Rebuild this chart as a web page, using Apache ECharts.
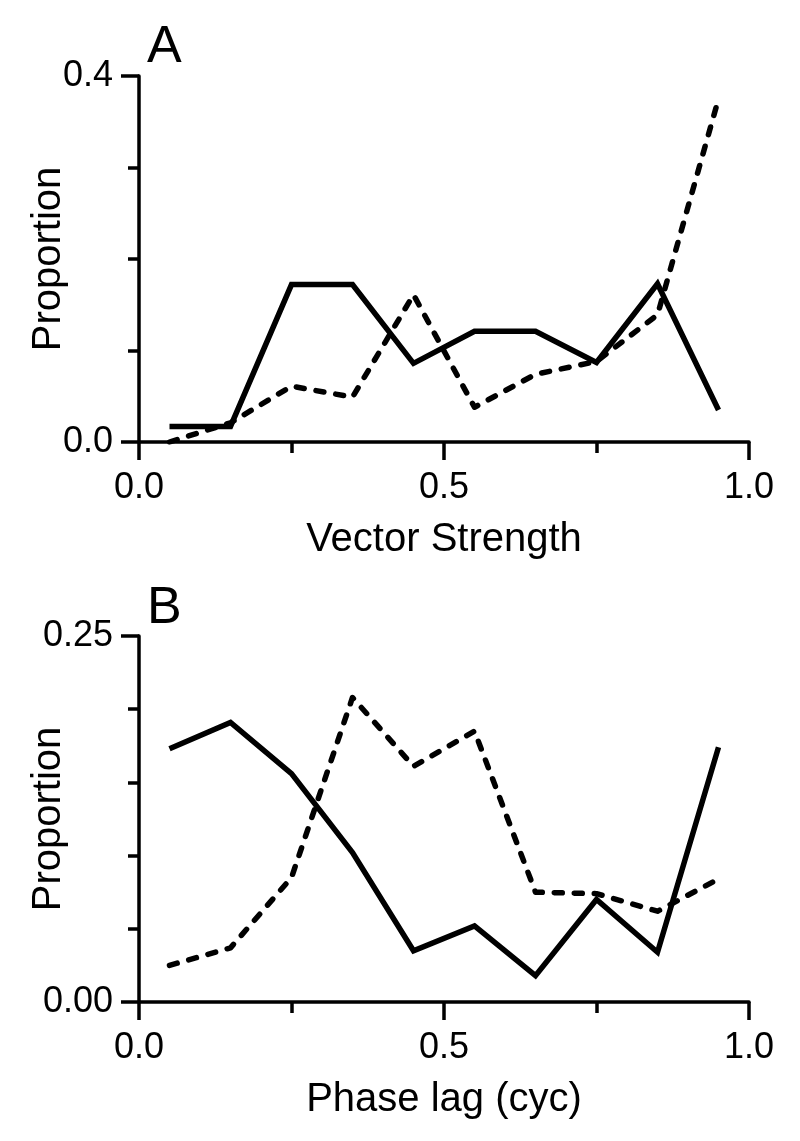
<!DOCTYPE html>
<html>
<head>
<meta charset="utf-8">
<script src="https://cdn.jsdelivr.net/npm/echarts@6/dist/echarts.min.js"></script>
<style>
html,body{margin:0;padding:0;background:#fff;}
#chart{width:800px;height:1141px;}
</style>
</head>
<body>
<div id="chart"></div>
<script>
// Bin centres shared by both panels
var binCenters = [0.05, 0.15, 0.25, 0.35, 0.45, 0.55, 0.65, 0.75, 0.85, 0.95];

// Panel A: Vector strength distributions
var vsSolid  = [0.017, 0.017, 0.172, 0.172, 0.086, 0.121, 0.121, 0.087, 0.173, 0.035];
var vsDashed = [0.000, 0.021, 0.061, 0.049, 0.161, 0.038, 0.074, 0.088, 0.139, 0.375];

// Panel B: Phase lag distributions
var phSolid  = [0.173, 0.191, 0.156, 0.102, 0.035, 0.052, 0.018, 0.070, 0.034, 0.174];
var phDashed = [0.025, 0.037, 0.085, 0.208, 0.161, 0.185, 0.075, 0.074, 0.062, 0.084];

// Axis texts
var panelLabels = ['A', 'B'];
var xNames = ['Vector Strength', 'Phase lag (cyc)'];
var yName = 'Proportion';

function pairs(ys){ return binCenters.map(function(x,i){ return [x, ys[i]]; }); }

var FONT = '"Liberation Sans", Arial, Helvetica, sans-serif';
var black = '#000';

function xAxisDef(gi, name){
  return {
    gridIndex: gi, type: 'value', min: 0, max: 1, interval: 0.5,
    name: name, nameLocation: 'middle', nameGap: 78, nameMoveOverlap: false,
    nameTextStyle: {fontFamily: FONT, fontSize: 40, color: black},
    axisLine: {show: true, onZero: false, lineStyle: {color: black, width: 3.5}},
    axisTick: {show: true, length: 18, lineStyle: {color: black, width: 3.5}},
    minorTick: {show: true, splitNumber: 2, length: 11, lineStyle: {color: black, width: 3.5}},
    splitLine: {show: false}, minorSplitLine: {show: false},
    axisLabel: {fontFamily: FONT, fontSize: 36, color: black, margin: 28,
      formatter: function(v){ return v.toFixed(1); }}
  };
}
function yAxisDef(gi, max, split, dec){
  return {
    gridIndex: gi, type: 'value', min: 0, max: max, interval: max,
    name: yName, nameLocation: 'middle', nameGap: 70, nameMoveOverlap: false,
    nameTextStyle: {fontFamily: FONT, fontSize: 40, color: black},
    axisLine: {show: true, onZero: false, lineStyle: {color: black, width: 3.5}},
    axisTick: {show: true, length: 18, lineStyle: {color: black, width: 3.5}},
    minorTick: {show: true, splitNumber: split, length: 11, lineStyle: {color: black, width: 3.5}},
    splitLine: {show: false}, minorSplitLine: {show: false},
    axisLabel: {fontFamily: FONT, fontSize: 36, color: black, margin: 26,
      formatter: function(v){ return v.toFixed(dec); }}
  };
}
function lineSeries(xi, data, dashed){
  return {
    type: 'line', xAxisIndex: xi, yAxisIndex: xi, data: pairs(data),
    showSymbol: false, symbol: 'none', animation: false, silent: true,
    lineStyle: dashed
      ? {color: black, width: 5.5, type: [8, 12], cap: 'round', join: 'round'}
      : {color: black, width: 5.5, type: 'solid', cap: 'butt', join: 'miter'}
  };
}

var chart = echarts.init(document.getElementById('chart'), null, {renderer: 'canvas'});
chart.setOption({
  backgroundColor: '#fff',
  animation: false,
  grid: [
    {left: 139, top: 76, width: 610, height: 366, containLabel: false, outerBoundsMode: 'none'},
    {left: 139, top: 636, width: 610, height: 366, containLabel: false, outerBoundsMode: 'none'}
  ],
  xAxis: [xAxisDef(0, xNames[0]), xAxisDef(1, xNames[1])],
  yAxis: [yAxisDef(0, 0.4, 4, 1), yAxisDef(1, 0.25, 5, 2)],
  graphic: [
    {type: 'text', left: 147, top: 22, style: {text: panelLabels[0], font: '52px ' + FONT, fill: black}},
    {type: 'text', left: 147, top: 583, style: {text: panelLabels[1], font: '52px ' + FONT, fill: black}}
  ],
  series: [
    lineSeries(0, vsDashed, true),
    lineSeries(0, vsSolid, false),
    lineSeries(1, phDashed, true),
    lineSeries(1, phSolid, false)
  ]
});
</script>
</body>
</html>
